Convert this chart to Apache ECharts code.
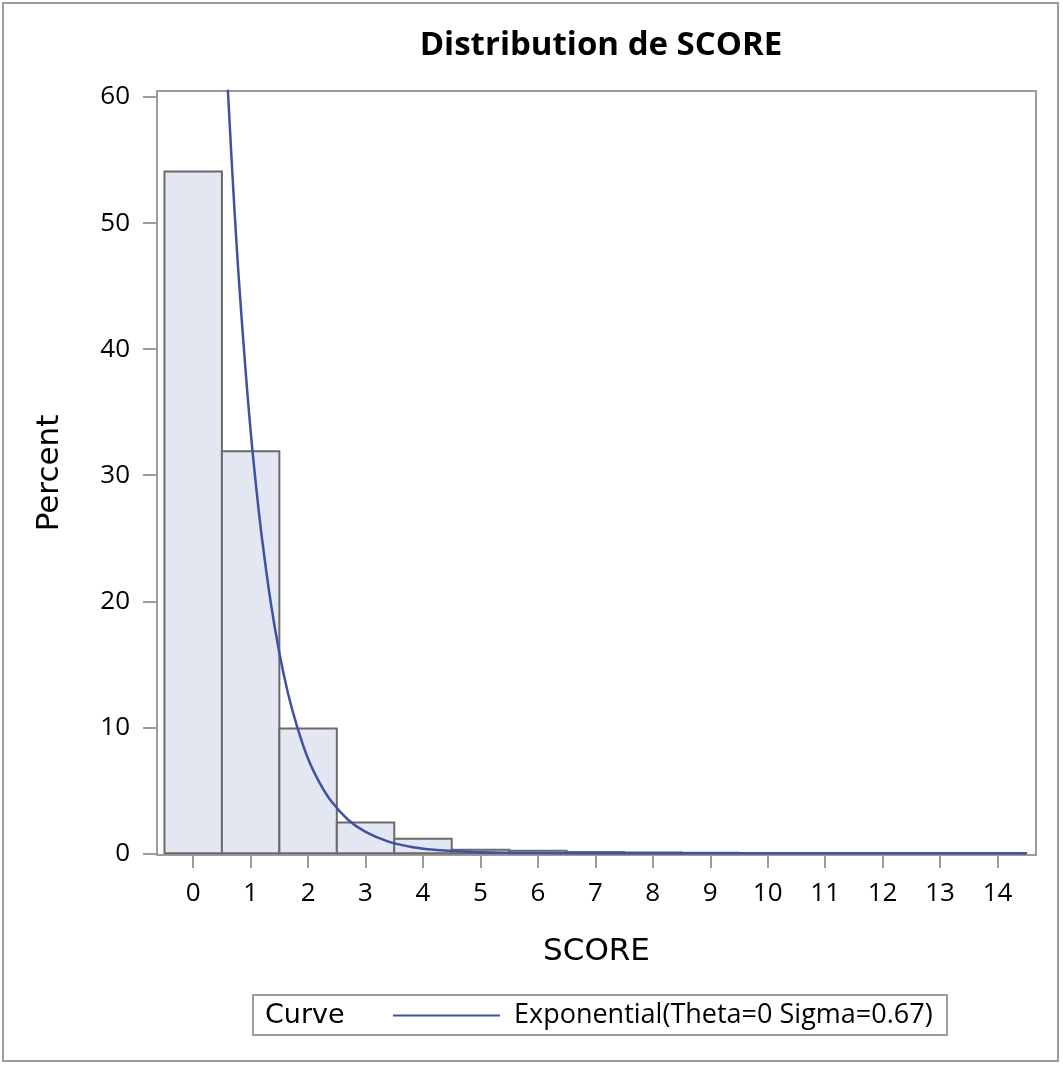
<!DOCTYPE html>
<html>
<head>
<meta charset="utf-8">
<script src="https://cdn.jsdelivr.net/npm/echarts@6/dist/echarts.min.js"></script>
<style>
html,body{margin:0;padding:0;background:#fff;}
#chart{width:1063px;height:1066px;}
</style>
</head>
<body>
<div id="chart"></div>
<script>
// Histogram bins (midpoints) and percents
var binMid = [0, 1, 2, 3, 4, 5, 6, 7, 8, 9, 10, 11, 12, 13, 14];
var binPct = [54.1, 31.9, 9.9, 2.45, 1.15, 0.28, 0.2, 0.1, 0.06, 0.04, 0.03, 0.03, 0.02, 0.02, 0.02];
// Fitted exponential curve
var curveX = [0.6, 0.65, 0.7, 0.75, 0.8, 0.9, 1.0, 1.1, 1.2, 1.35, 1.5, 1.65, 1.8, 2.0, 2.2, 2.4, 2.7, 3.0, 3.4, 3.8, 4.3, 5.0, 6.0, 7.5, 9.0, 14.5];
var curveY = [60.9, 56.6, 52.5, 48.7, 45.2, 39.0, 33.5, 28.9, 24.9, 19.9, 15.9, 12.7, 10.2, 7.5, 5.6, 4.15, 2.65, 1.7, 0.93, 0.51, 0.24, 0.09, 0.02, 0.0, 0.0, 0.0];
var xTicks = [0, 1, 2, 3, 4, 5, 6, 7, 8, 9, 10, 11, 12, 13, 14];
var yTicks = [0, 10, 20, 30, 40, 50, 60];
var curveName = 'Exponential(Theta=0 Sigma=0.67)';

var bars = binMid.map(function (m, i) { return [m, binPct[i]]; });
var curve = curveX.map(function (x, i) { return [x, curveY[i]]; });

var chart = echarts.init(document.getElementById('chart'));
var gray = '#9c9c9c';
var tickFont = { fontFamily: 'Open Sans', fontSize: 26, color: '#000' };

chart.setOption({
  animation: false,
  backgroundColor: '#fff',
  title: {
    text: 'Distribution de SCORE',
    left: 596, top: 24, textAlign: 'center',
    textStyle: { fontFamily: 'Open Sans', fontWeight: 'bold', fontSize: 33, color: '#000' }
  },
  grid: {
    left: 157, right: 27, top: 91, bottom: 211,
    show: true, borderColor: gray, borderWidth: 2, backgroundColor: '#fff'
  },
  xAxis: {
    type: 'value', min: -0.63, max: 14.67,
    name: 'SCORE', nameLocation: 'middle', nameGap: 81,
    nameTextStyle: { fontFamily: 'DejaVu Sans', fontSize: 31, color: '#000' },
    axisLine: { show: true, onZero: false, lineStyle: { color: gray, width: 2 } },
    axisTick: { show: true, customValues: xTicks, length: 13, lineStyle: { color: gray, width: 2 } },
    axisLabel: Object.assign({ customValues: xTicks, margin: 26 }, tickFont),
    splitLine: { show: false }
  },
  yAxis: {
    type: 'value', min: -0.13, max: 60.48,
    name: 'Percent', nameLocation: 'middle', nameGap: 92,
    nameTextStyle: { fontFamily: 'DejaVu Sans', fontSize: 31, color: '#000' },
    axisLine: { show: true, onZero: false, lineStyle: { color: gray, width: 2 } },
    axisTick: { show: true, customValues: yTicks, length: 14, lineStyle: { color: gray, width: 2 } },
    axisLabel: Object.assign({ customValues: yTicks, margin: 27 }, tickFont),
    splitLine: { show: false }
  },
  legend: {
    show: true, left: 388, top: 997,
    icon: 'rect', itemWidth: 107, itemHeight: 2,
    data: [curveName],
    textStyle: { fontFamily: 'Open Sans', fontSize: 27, color: '#000', padding: [0, 0, 0, 9] }
  },
  graphic: [
    { type: 'rect', shape: { x: 3, y: 3, width: 1055, height: 1058 }, style: { fill: 'none', stroke: gray, lineWidth: 2 }, silent: true },
    { type: 'rect', shape: { x: 253, y: 995, width: 694, height: 40 }, style: { fill: 'none', stroke: gray, lineWidth: 2 }, silent: true },
    { type: 'text', x: 265, y: 1016, style: { text: 'Curve', fontFamily: 'DejaVu Sans', fontSize: 27, fill: '#000', verticalAlign: 'middle' }, silent: true }
  ],
  series: [
    {
      type: 'custom',
      name: 'bars',
      data: bars,
      encode: { x: 0, y: 1 },
      clip: true,
      renderItem: function (params, api) {
        var m = api.value(0), v = api.value(1);
        var p0 = api.coord([m - 0.5, v]);
        var p1 = api.coord([m + 0.5, 0]);
        return {
          type: 'rect',
          shape: { x: p0[0], y: p0[1], width: p1[0] - p0[0], height: p1[1] - p0[1] },
          style: { fill: '#e2e7f1', stroke: '#6a6a6a', lineWidth: 2 }
        };
      },
      z: 2
    },
    {
      type: 'line',
      name: curveName,
      data: curve,
      smooth: 0.4,
      symbol: 'none',
      clip: true,
      lineStyle: { color: '#3f51a0', width: 2.5 },
      itemStyle: { color: '#3f51a0' },
      z: 3
    }
  ]
});
</script>
</body>
</html>
